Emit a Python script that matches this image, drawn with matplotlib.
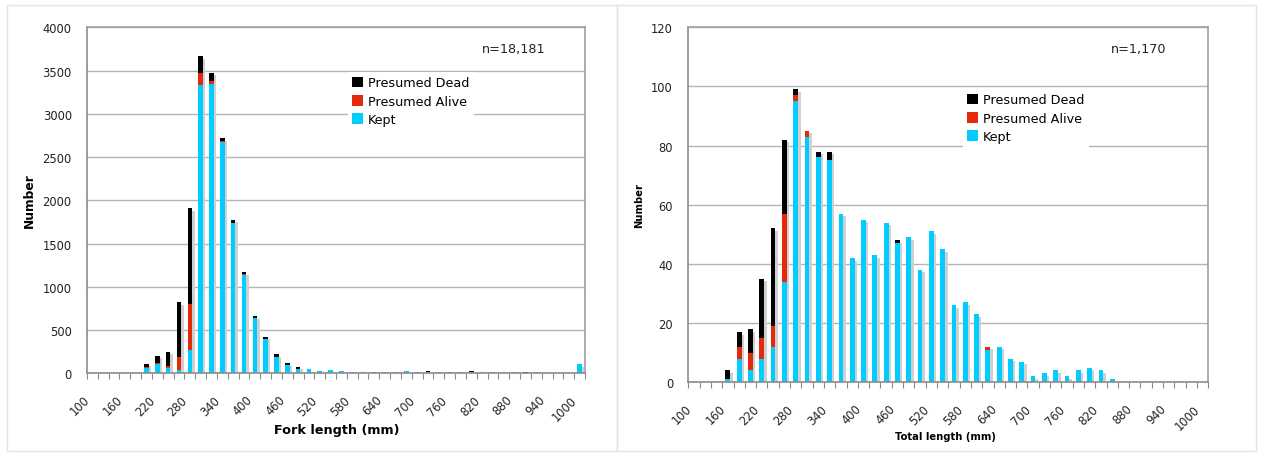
"""Two stacked length-frequency histograms (fork length / total length) -> out.png."""

import matplotlib.pyplot as plt
import matplotlib.transforms as mtransforms
from matplotlib.patches import Rectangle

# length classes (mm), one bar per 20 mm class
LENGTH_CLASSES = list(range(100, 1001, 20))

FORK_KEPT = [0, 0, 0, 0, 5, 65, 112, 58, 39, 270, 3338, 3350, 2675, 1738, 1140, 636,
             401, 193, 95, 55, 44, 27, 35, 27, 15, 12, 19, 15, 15, 27, 15, 20, 15, 15,
             15, 15, 15, 12, 15, 12, 0, 15, 8, 0, 0, 105]
FORK_ALIVE = [0, 0, 0, 0, 0, 10, 11, 31, 146, 532, 134, 30, 12, 5, 3, 0,
              0, 0, 0, 0, 0, 0, 0, 0, 0, 0, 0, 0, 0, 0, 0, 0, 0, 0,
              0, 0, 0, 0, 0, 0, 0, 0, 0, 0, 0, 0]
FORK_DEAD = [0, 0, 0, 0, 3, 33, 81, 161, 636, 1106, 193, 92, 30, 30, 25, 23,
             23, 27, 22, 20, 2, 0, 0, 0, 0, 0, 0, 0, 0, 0, 0, 3, 0, 0,
             0, 12, 0, 0, 0, 0, 15, 0, 0, 0, 0, 0]

TOTAL_KEPT = [0, 0, 0, 1, 8, 4, 8, 12, 34, 95, 83, 76, 75, 57, 42, 55,
              43, 54, 47, 49, 38, 51, 45, 26, 27, 23, 11, 12, 8, 7, 2, 3, 4, 2,
              4, 5, 4, 1, 0, 0, 0, 0, 0, 0, 0, 0]
TOTAL_ALIVE = [0, 0, 0, 0, 4, 6, 7, 7, 23, 2, 2, 0, 0, 0, 0, 0,
               0, 0, 0, 0, 0, 0, 0, 0, 0, 0, 1, 0, 0, 0, 0, 0, 0, 0,
               0, 0, 0, 0, 0, 0, 0, 0, 0, 0, 0, 0]
TOTAL_DEAD = [0, 0, 0, 3, 5, 8, 20, 33, 25, 2, 0, 2, 3, 0, 0, 0,
              0, 0, 1, 0, 0, 0, 0, 0, 0, 0, 0, 0, 0, 0, 0, 0, 0, 0,
              0, 0, 0, 0, 0, 0, 0, 0, 0, 0, 0, 0]

KEPT_C = "#00CCFF"
ALIVE_C = "#E52A0C"
DEAD_C = "#000000"
SHADOW_C = "#D0D0D0"
GRID_C = "#B4B4B4"
SPINE_C = "#8C8C8C"

plt.rcParams.update({"font.family": "DejaVu Sans", "font.size": 8.3})

W, H = 1263, 456
fig = plt.figure(figsize=(W / 100, H / 100), dpi=100)


def px_axes(x0, y0, x1, y1):
    return fig.add_axes([x0 / W, 1 - y1 / H, (x1 - x0) / W, (y1 - y0) / H])


def draw_panel(ax, kept, alive, dead, ymax, ystep, n_text, legend_xy):
    pos = list(range(len(LENGTH_CLASSES)))
    total = [k + a + d for k, a, d in zip(kept, alive, dead)]
    shadow = mtransforms.offset_copy(ax.transData, fig=fig, x=2.5, y=-2.5, units="dots")
    width = 0.42
    ax.bar(pos, total, width, color=SHADOW_C, transform=shadow, zorder=1, linewidth=0)
    ax.bar(pos, kept, width, color=KEPT_C, zorder=2, linewidth=0, label="Kept")
    ax.bar(pos, alive, width, bottom=kept, color=ALIVE_C, zorder=2, linewidth=0,
           label="Presumed Alive")
    ax.bar(pos, dead, width, bottom=[k + a for k, a in zip(kept, alive)], color=DEAD_C,
           zorder=2, linewidth=0, label="Presumed Dead")

    ax.set_xlim(-0.5, len(pos) - 0.5)
    ax.set_ylim(0, ymax)
    ax.set_yticks(range(0, ymax + 1, ystep))
    ax.yaxis.grid(True, color=GRID_C, linewidth=1.0)
    ax.set_axisbelow(True)
    ax.tick_params(axis="y", length=0, pad=11, colors="#222222")

    # tick marks between classes, labels on every third class
    ax.set_xticks([p - 0.5 for p in pos] + [len(pos) - 0.5])
    ax.set_xticklabels([])
    ax.tick_params(axis="x", which="major", length=4, color=SPINE_C, direction="out")
    ax.set_xticks(pos[::3], minor=True)
    ax.set_xticklabels([str(v) for v in LENGTH_CLASSES[::3]], minor=True, rotation=45,
                       ha="right", va="top", rotation_mode="anchor", color="#222222")
    ax.tick_params(axis="x", which="minor", length=0, pad=12)
    shift = mtransforms.ScaledTranslation(-9 / 100, -3 / 100, fig.dpi_scale_trans)
    for lab in ax.get_xticklabels(minor=True):
        lab.set_transform(lab.get_transform() + shift)

    for side in ("left", "bottom", "top", "right"):
        ax.spines[side].set_color(SPINE_C if side in ("left", "bottom") else "#A0A0A0")
        ax.spines[side].set_linewidth(1.2)

    ax.text(0.92, 0.94, n_text, transform=ax.transAxes, ha="right", va="center",
            fontsize=9.2, color="#222222")

    handles, labels = ax.get_legend_handles_labels()
    leg = ax.legend(handles[::-1], labels[::-1], loc="upper left",
                    bbox_to_anchor=(legend_xy[0] / W, 1 - legend_xy[1] / H),
                    bbox_transform=fig.transFigure, frameon=True, fancybox=False,
                    edgecolor="none", facecolor="white", framealpha=1, fontsize=9.2,
                    handlelength=0.8, handleheight=0.9, handletextpad=0.4,
                    labelspacing=0.42, borderpad=0.35, borderaxespad=0)
    leg.set_zorder(5)
    return ax


ax1 = px_axes(87, 28.3, 585, 374.3)
draw_panel(ax1, FORK_KEPT, FORK_ALIVE, FORK_DEAD, 4000, 500, "n=18,181", (348, 73))
fig.text(29 / W, 1 - 201 / H, "Number", rotation=90, ha="center", va="center",
         fontsize=8.8, fontweight="bold")
fig.text(337 / W, 1 - 431 / H, "Fork length (mm)", ha="center", va="center",
         fontsize=9.2, fontweight="bold")

ax2 = px_axes(688.3, 28.3, 1208.3, 383.3)
draw_panel(ax2, TOTAL_KEPT, TOTAL_ALIVE, TOTAL_DEAD, 120, 20, "n=1,170", (963, 90))
fig.text(639 / W, 1 - 206 / H, "Number", rotation=90, ha="center", va="center",
         fontsize=7.2, fontweight="bold")
fig.text(945 / W, 1 - 437 / H, "Total length (mm)", ha="center", va="center",
         fontsize=7.2, fontweight="bold")

# light chart-object borders
for x0, x1 in ((7, 617), (617, 1256)):
    fig.patches.append(Rectangle((x0 / W, 1 - 452 / H), (x1 - x0) / W, (452 - 6) / H,
                                 transform=fig.transFigure, fill=False,
                                 edgecolor="#E4E4E4", linewidth=1.0))

fig.savefig("out.png", dpi=100)
